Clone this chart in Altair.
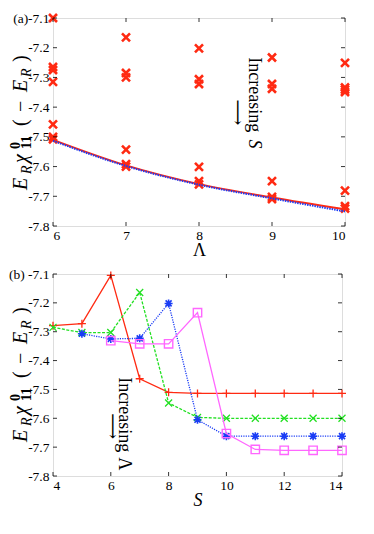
import altair as alt
import pandas as pd

# ---------------- data: panel (a) ----------------
lam_a = [6, 6, 6, 6, 6, 6, 6,
         7, 7, 7, 7, 7, 7,
         8, 8, 8, 8, 8, 8,
         9, 9, 9, 9, 9, 9,
         10, 10, 10, 10, 10, 10, 10]
e_a = [-7.100, -7.265, -7.275, -7.315, -7.458, -7.500, -7.508,
       -7.165, -7.285, -7.300, -7.543, -7.592, -7.600,
       -7.202, -7.306, -7.322, -7.601, -7.649, -7.660,
       -7.233, -7.322, -7.338, -7.649, -7.702, -7.709,
       -7.251, -7.334, -7.341, -7.349, -7.681, -7.733, -7.741]
fit_lam = [6, 7, 8, 9, 10]
fit_red = [-7.510, -7.596, -7.659, -7.704, -7.744]
fit_blue = [-7.513, -7.598, -7.661, -7.707, -7.751]

# ---------------- data: panel (b) ----------------
s_red = [4, 5, 6, 7, 8, 9, 10, 11, 12, 13, 14]
e_red = [-7.279, -7.272, -7.105, -7.463, -7.510, -7.514, -7.514, -7.514, -7.514, -7.514, -7.514]
s_green = [4, 5, 6, 7, 8, 9, 10, 11, 12, 13, 14]
e_green = [-7.285, -7.303, -7.303, -7.164, -7.547, -7.597, -7.600, -7.600, -7.600, -7.600, -7.600]
s_blue = [5, 6, 7, 8, 9, 10, 11, 12, 13, 14]
e_blue = [-7.307, -7.325, -7.323, -7.202, -7.605, -7.662, -7.662, -7.662, -7.662, -7.662]
s_mag = [6, 7, 8, 9, 10, 11, 12, 13, 14]
e_mag = [-7.331, -7.342, -7.342, -7.234, -7.653, -7.708, -7.711, -7.711, -7.711]

y_ticks = [-7.8, -7.7, -7.6, -7.5, -7.4, -7.3, -7.2, -7.1]
xa_ticks = [6, 7, 8, 9, 10]
xb_ticks = [4, 6, 8, 10, 12, 14]

FONT = "Liberation Serif"
RED, GREEN, BLUE, MAG = "#ff2a12", "#22e022", "#1a3cf5", "#ff66ff"

X_PATH = "M-1,-1L1,1M-1,1L1,-1"
PLUS_PATH = "M-1,0L1,0M0,-1L0,1"
STAR_PATH = "M-1,0L1,0M0,-1L0,1M-0.75,-0.75L0.75,0.75M-0.75,0.75L0.75,-0.75"


def yaxis(tag):
    return alt.Axis(values=y_ticks, format=".1f", ticks=False, domain=False, grid=False,
                    title=None, labelFont=FONT, labelFontSize=13.5, labelColor="black",
                    labelPadding=4, labelOverlap=False,
                    labelExpr="datum.value > -7.15 ? '" + tag + "-7.1' : replace(datum.label, '−', '-')")


def xaxis(vals, title, italic):
    return alt.Axis(values=vals, format="d", ticks=False, domain=False, grid=False,
                    title=title, titleFont=FONT, titleFontSize=18,
                    titleFontStyle="italic" if italic else "normal",
                    titleFontWeight="normal", titleColor="black", titlePadding=0,
                    labelFont=FONT, labelFontSize=13.5, labelColor="black", labelPadding=2,
                    labelOverlap=False)


def frame_ticks(xs, W, H, X, Y):
    xt = pd.DataFrame({"x": xs})
    yt = pd.DataFrame({"y": y_ticks})
    L = 4
    base_x = alt.Chart(xt).mark_rule(color="black", strokeWidth=0.8)
    base_y = alt.Chart(yt).mark_rule(color="black", strokeWidth=0.8)
    return [
        base_x.encode(x=X("x"), y=alt.value(H), y2=alt.value(H - L)),
        base_x.encode(x=X("x"), y=alt.value(0), y2=alt.value(L)),
        base_y.encode(y=Y("y"), x=alt.value(0), x2=alt.value(L)),
        base_y.encode(y=Y("y"), x=alt.value(W), x2=alt.value(W - L)),
    ]


def ytitle(xbase, ystart):
    # composed label  E_R chi^0_11 (-E_R), rotated, reading upward
    pieces = [
        ("E", 0, 0, 20, "italic", "normal"),
        ("R", -16, 4, 14, "italic", "normal"),
        ("χ", -27, 0, 20, "italic", "normal"),
        ("0", -41, -7, 14, "normal", "bold"),
        ("11", -41, 4, 14, "normal", "bold"),
        ("(", -64, 0, 20, "normal", "normal"),
        ("−", -78, 0, 20, "normal", "normal"),
        ("E", -98, 0, 20, "italic", "normal"),
        ("R", -113, 4, 14, "italic", "normal"),
        (")", -128, 0, 20, "normal", "normal"),
    ]
    dummy = pd.DataFrame({"a": [0]})
    out = []
    for t, dy, dx, sz, st, wt in pieces:
        out.append(alt.Chart(dummy).mark_text(
            text=t, angle=270, align="left", baseline="alphabetic",
            font=FONT, fontSize=sz, fontStyle=st, fontWeight=wt, color="black"
        ).encode(x=alt.value(xbase + dx), y=alt.value(ystart + dy)))
    return out


ydom = [-7.8, -7.1]

# ---------------- panel (a) ----------------
WA, HA = 292, 208
AX_XA = xaxis(xa_ticks, "Λ", False)
AX_YA = yaxis("(a)")
XA = lambda f: alt.X(f + ":Q", scale=alt.Scale(domain=[6, 10], nice=False, zero=False), axis=AX_XA)
YA = lambda f: alt.Y(f + ":Q", scale=alt.Scale(domain=ydom, nice=False, zero=False), axis=AX_YA)

df_pts = pd.DataFrame({"lam": lam_a, "e": e_a})
df_fit = pd.DataFrame({"lam": fit_lam, "red": fit_red, "blue": fit_blue})

pts_a = alt.Chart(df_pts).mark_point(shape=X_PATH, size=64, filled=False, color=RED,
                                     strokeWidth=2.6, opacity=1).encode(x=XA("lam"), y=YA("e"))
red_fit = alt.Chart(df_fit).mark_line(color=RED, strokeWidth=2, interpolate="monotone").encode(
    x=XA("lam"), y=YA("red"))
blue_fit = alt.Chart(df_fit).mark_line(color=BLUE, strokeWidth=2, strokeDash=[1.5, 1],
                                       interpolate="monotone").encode(x=XA("lam"), y=YA("blue"))

ann_a = pd.DataFrame({"x": [8.756], "y": [-7.358], "ys": [-7.524], "xa": [8.52], "ya": [-7.418]})
txt_a = alt.Chart(ann_a).mark_text(text="Increasing", angle=90, align="center", baseline="middle",
                                    font=FONT, fontSize=18, color="black").encode(x=XA("x"), y=YA("y"))
txt_a2 = alt.Chart(ann_a).mark_text(text="S", angle=90, align="center", baseline="middle",
                                     font=FONT, fontSize=18, fontStyle="italic",
                                     color="black").encode(x=XA("x"), y=YA("ys"))
arr_a = alt.Chart(ann_a).mark_text(text="⟶", angle=90, align="center", baseline="middle",
                                    font="DejaVu Serif", fontSize=18, color="black").encode(x=XA("xa"), y=YA("ya"))

panel_a = alt.layer(
    pts_a, red_fit, blue_fit, txt_a, txt_a2, arr_a,
    *frame_ticks(xa_ticks, WA, HA, XA, YA),
    *ytitle(-26, 172),
).properties(width=WA, height=HA)

# ---------------- panel (b) ----------------
WB, HB = 289, 202
AX_XB = xaxis(xb_ticks, "S", True)
AX_YB = yaxis("(b) ")
XB = lambda f: alt.X(f + ":Q", scale=alt.Scale(domain=[4, 14], nice=False, zero=False), axis=AX_XB)
YB = lambda f: alt.Y(f + ":Q", scale=alt.Scale(domain=ydom, nice=False, zero=False), axis=AX_YB)


def series(xv, yv, color, dash, shape, size, sw):
    df = pd.DataFrame({"s": xv, "e": yv})
    line_kw = dict(color=color, strokeWidth=1.3)
    if dash:
        line_kw["strokeDash"] = dash
    ln = alt.Chart(df).mark_line(**line_kw).encode(x=XB("s"), y=YB("e"))
    pt = alt.Chart(df).mark_point(shape=shape, size=size, filled=False, color=color,
                                  strokeWidth=sw, opacity=1).encode(x=XB("s"), y=YB("e"))
    return [ln, pt]


ann_b = pd.DataFrame({"x": [6.47], "y": [-7.588], "yl": [-7.758], "xa": [6.04], "ya": [-7.627]})
txt_b = alt.Chart(ann_b).mark_text(text="Increasing", angle=90, align="center", baseline="middle",
                                    font=FONT, fontSize=18, color="black").encode(x=XB("x"), y=YB("y"))
txt_b2 = alt.Chart(ann_b).mark_text(text="Λ", angle=90, align="center", baseline="middle",
                                     font=FONT, fontSize=18, color="black").encode(x=XB("x"), y=YB("yl"))
arr_b = alt.Chart(ann_b).mark_text(text="⟶", angle=90, align="center", baseline="middle",
                                    font="DejaVu Serif", fontSize=18, color="black").encode(x=XB("xa"), y=YB("ya"))

panel_b = alt.layer(
    *series(s_red, e_red, RED, None, PLUS_PATH, 64, 1.3),
    *series(s_green, e_green, GREEN, [3, 1.5], X_PATH, 49, 1.3),
    *series(s_blue, e_blue, BLUE, [1.2, 1.2], STAR_PATH, 64, 1.6),
    *series(s_mag, e_mag, MAG, None, "square", 70, 1.4),
    txt_b, txt_b2, arr_b,
    *frame_ticks(xb_ticks, WB, HB, XB, YB),
    *ytitle(-26, 168),
).properties(width=WB, height=HB)

chart = alt.vconcat(panel_a, panel_b, spacing=6).properties(padding=0).configure_view(
    stroke="black", strokeWidth=1
).configure(background="white")

chart.save("out.html", embed_options={"renderer": "svg", "actions": False})
